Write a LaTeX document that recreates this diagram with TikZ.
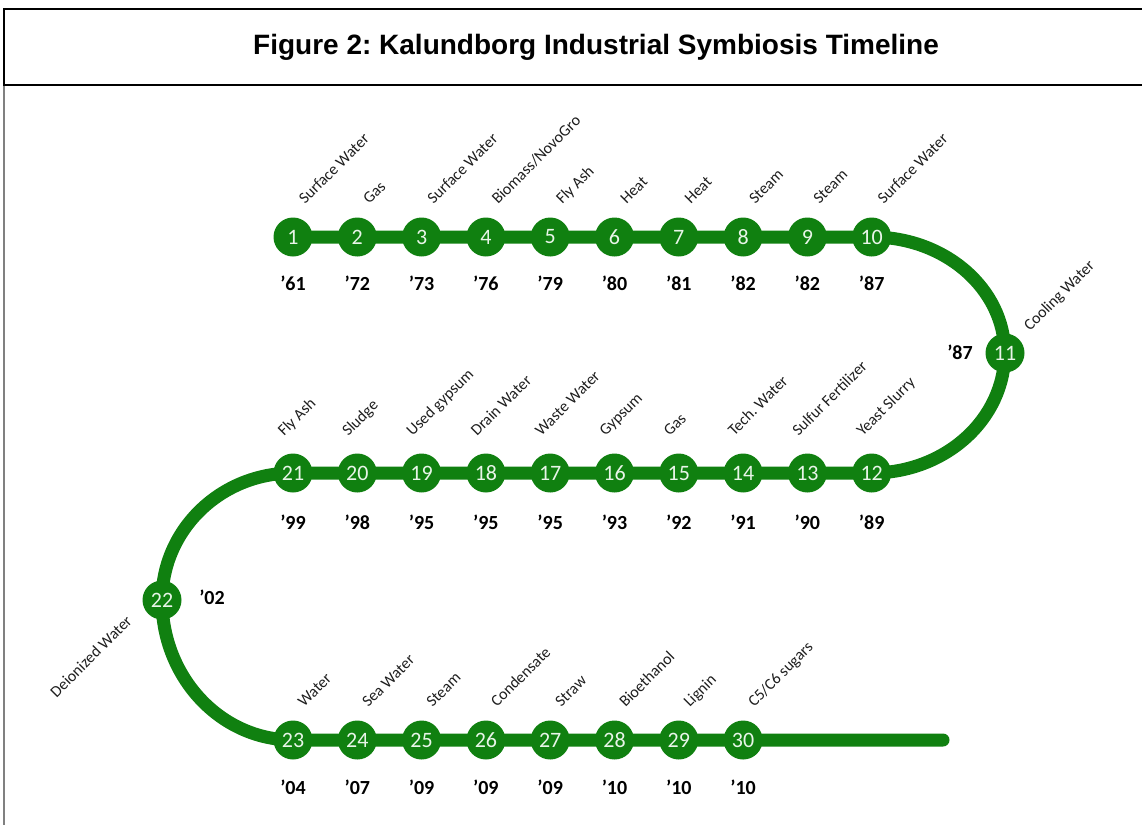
\documentclass[tikz,border=0pt]{standalone}
\usepackage{fontspec}
\setmainfont{Carlito}
\newfontfamily\titlefont{Liberation Sans}
\usetikzlibrary{backgrounds}
\definecolor{tgreen}{RGB}{16,128,16}
\definecolor{numwhite}{RGB}{232,245,232}
\definecolor{lblgray}{RGB}{30,30,30}
\frenchspacing
\begin{document}
\begin{tikzpicture}[x=1pt,y=1pt,
  station/.style={circle,fill=tgreen,minimum size=39pt,inner sep=0pt,text=numwhite,font=\fontsize{22}{22}\selectfont},
  yearlbl/.style={font=\bfseries\fontsize{20}{20}\selectfont,text=black,inner sep=0pt},
  lbl/.style={rotate=45,anchor=base west,inner sep=0pt,text=lblgray,font=\fontsize{16}{16}\selectfont},
  lblr/.style={rotate=45,anchor=base east,inner sep=0pt,text=lblgray,font=\fontsize{16}{16}\selectfont},
  track/.style={draw=tgreen,line width=13pt,line cap=round,line join=round},
  frameline/.style={draw=black,line width=2pt}]
\useasboundingbox (0,0) rectangle (1142,-825);
% frame
\draw[frameline] (1142,-9) -- (4,-9) -- (4,-85) -- (1142,-85);
\draw[draw=gray,line width=2pt] (4,-86) -- (4,-825);
\node[font=\titlefont\bfseries\fontsize{28}{28}\selectfont] (title) at (596,-47) {Figure 2: Kalundborg Industrial Symbiosis Timeline};
% stations
\foreach \n [count=\i from 0] in {1,2,3,4,5,6,7,8,9,10}
  \node[station] (n\n) at ({293+64.3*\i},-237) {\n};
\foreach \n [count=\i from 0] in {21,20,19,18,17,16,15,14,13,12}
  \node[station] (n\n) at ({293+64.3*\i},-473) {\n};
\foreach \n [count=\i from 0] in {23,24,25,26,27,28,29,30}
  \node[station] (n\n) at ({293+64.3*\i},-740) {\n};
\node[station] (n11) at (1005,-353) {11};
\node[station] (n22) at (162,-600) {22};
\coordinate (trackend) at (943,-740);
% track
\begin{pgfonlayer}{background}
\draw[track] (n1.center) -- (n10.center)
  arc[start angle=90,end angle=0,x radius=133pt,y radius=116pt]
  arc[start angle=0,end angle=-90,x radius=133pt,y radius=120pt]
  -- (n21.center)
  arc[start angle=90,end angle=180,x radius=131pt,y radius=127pt]
  arc[start angle=180,end angle=270,x radius=131pt,y radius=140pt]
  -- (n30.center) -- (trackend);
\end{pgfonlayer}
% years
\foreach \n/\y in {1/61,2/72,3/73,4/76,5/79,6/80,7/81,8/82,9/82,10/87}
  \node[yearlbl] (y\n) at ([yshift=-46pt]n\n.center) {’\y};
\foreach \n/\y in {21/99,20/98,19/95,18/95,17/95,16/93,15/92,14/91,13/90,12/89}
  \node[yearlbl] (y\n) at ([yshift=-49pt]n\n.center) {’\y};
\foreach \n/\y in {23/04,24/07,25/09,26/09,27/09,28/10,29/10,30/10}
  \node[yearlbl] (y\n) at ([yshift=-47pt]n\n.center) {’\y};
\node[yearlbl] (y11) at (960,-352) {’87};
\node[yearlbl] (y22) at (212,-597) {’02};
% labels
\foreach \n/\t in {1/Surface Water,2/Gas,3/Surface Water,4/{Biomass/NovoGro},5/Fly Ash,6/Heat,7/Heat,8/Steam,9/Steam,10/Surface Water}
  \node[lbl] (l\n) at ([xshift=12pt,yshift=32pt]n\n.center) {\t};
\foreach \n/\t in {21/Fly Ash,20/Sludge,19/Used gypsum,18/Drain Water,17/Waste Water,16/Gypsum,15/Gas,14/Tech. Water,13/Sulfur Fertilizer,12/Yeast Slurry}
  \node[lbl] (l\n) at ([xshift=-9pt,yshift=36pt]n\n.center) {\t};
\foreach \n/\t in {23/Water,24/Sea Water,25/Steam,26/Condensate,27/Straw,28/Bioethanol,29/Lignin,30/{C5/C6 sugars}}
  \node[lbl] (l\n) at ([xshift=11pt,yshift=32pt]n\n.center) {\t};
\node[lbl] (l11) at ([xshift=25pt,yshift=21pt]n11.center) {Cooling Water};
\node[lblr] (l22) at ([xshift=-29pt,yshift=-22pt]n22.center) {Deionized Water};
\end{tikzpicture}
\end{document}
